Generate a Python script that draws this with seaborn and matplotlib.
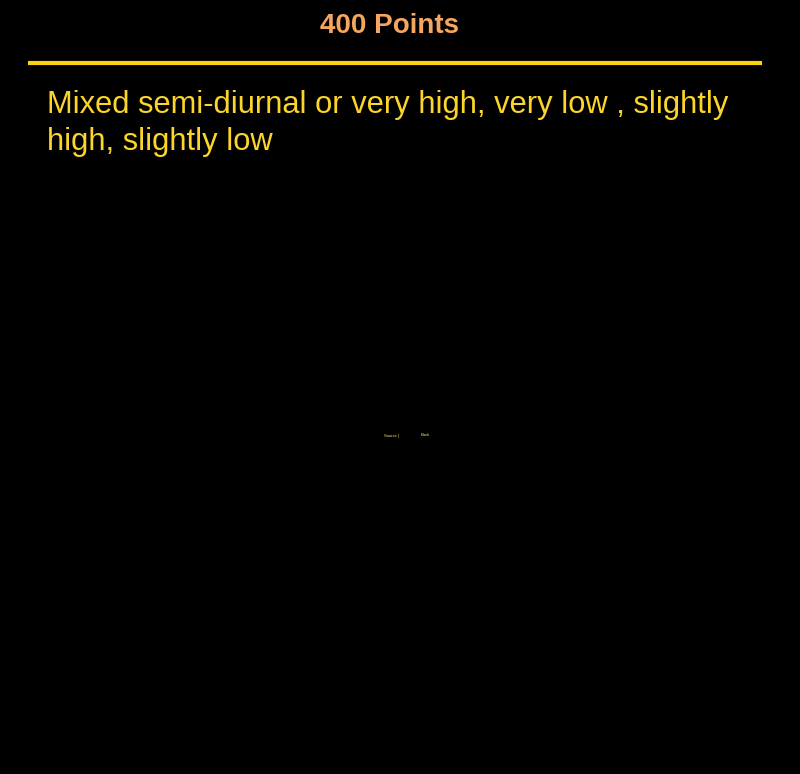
import matplotlib
matplotlib.use("Agg")
import matplotlib.pyplot as plt
import seaborn as sns

# slide content
title = "400 Points"
body_lines = [
    "Mixed semi-diurnal or very high, very low , slightly",
    "high, slightly low",
]
nav_links = ["Source |", "Back"]

sns.set_theme(style="white")
plt.rcParams["font.family"] = ["Liberation Sans", "DejaVu Sans"]

fig = plt.figure(figsize=(8, 7.74), dpi=100, facecolor="black")
ax = fig.add_axes([0, 0, 1, 1])
ax.set_facecolor("black")
ax.set_xlim(0, 800)
ax.set_ylim(774, 0)
ax.axis("off")

# title and rule
ax.text(390, 26, title, ha="center", va="center", fontsize=20,
        fontweight="bold", color="#F6A65E")
ax.axhline(63, xmin=28 / 800, xmax=762 / 800, color="#FCD20F",
           linewidth=3, solid_capstyle="butt")

# body text
for i, line in enumerate(body_lines):
    ax.text(47, 105 + i * 37, line, ha="left", va="center",
            fontsize=22.2, color="#FCD52A")

# tiny navigation links
ax.text(384, 436, nav_links[0], ha="left", va="center", fontsize=3,
        color="#FCE66A")
ax.text(421, 435, nav_links[1], ha="left", va="center", fontsize=3,
        color="#FCE66A")

fig.savefig("out.png", dpi=100, facecolor="black")
